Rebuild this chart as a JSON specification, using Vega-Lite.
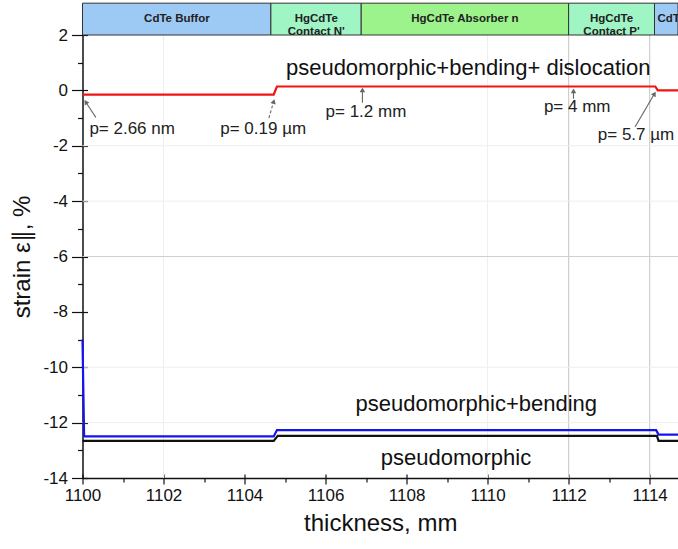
{
  "$schema": "https://vega.github.io/schema/vega-lite/v6.json",
  "width": 595.5,
  "height": 443,
  "autosize": {"type": "none"},
  "padding": {"left": 82.5, "top": 35, "right": 0, "bottom": 71},
  "config": {
    "view": {"stroke": null},
    "font": "Liberation Sans",
    "axis": {
      "labelFont": "Liberation Sans",
      "titleFont": "Liberation Sans",
      "labelColor": "#111111",
      "titleColor": "#111111",
      "tickColor": "#111111",
      "domainColor": "#111111",
      "grid": false,
      "labelFlush": false,
      "labelOverlap": false,
      "titleFontWeight": "normal"
    }
  },
  "datasets": {
    "bands": [
      {"label": "CdTe Buffor", "x0": 1100, "x1": 1104.65, "xm": 1102.33, "kind": "buffer"},
      {"label": "HgCdTe\nContact N'", "x0": 1104.65, "x1": 1106.88, "xm": 1105.77, "kind": "contact"},
      {"label": "HgCdTe Absorber n", "x0": 1106.88, "x1": 1112.0, "xm": 1109.44, "kind": "absorber"},
      {"label": "HgCdTe\nContact P'", "x0": 1112.0, "x1": 1114.12, "xm": 1113.06, "kind": "contact"},
      {"label": "CdTe Buffor", "x0": 1114.12, "x1": 1114.7, "xm": 1114.41, "kind": "buffer"}
    ],
    "curves": [
      {"series": "pseudomorphic+bending+ dislocation", "x": 1100, "y": -0.15},
      {"series": "pseudomorphic+bending+ dislocation", "x": 1104.72, "y": -0.15},
      {"series": "pseudomorphic+bending+ dislocation", "x": 1104.8, "y": 0.14},
      {"series": "pseudomorphic+bending+ dislocation", "x": 1114.14, "y": 0.14},
      {"series": "pseudomorphic+bending+ dislocation", "x": 1114.2, "y": 0.0},
      {"series": "pseudomorphic+bending+ dislocation", "x": 1114.7, "y": 0.0},
      {"series": "pseudomorphic+bending", "x": 1100, "y": -9.0},
      {"series": "pseudomorphic+bending", "x": 1100.04, "y": -12.5},
      {"series": "pseudomorphic+bending", "x": 1104.72, "y": -12.5},
      {"series": "pseudomorphic+bending", "x": 1104.8, "y": -12.27},
      {"series": "pseudomorphic+bending", "x": 1114.16, "y": -12.27},
      {"series": "pseudomorphic+bending", "x": 1114.22, "y": -12.43},
      {"series": "pseudomorphic+bending", "x": 1114.7, "y": -12.43},
      {"series": "pseudomorphic", "x": 1100, "y": -12.66},
      {"series": "pseudomorphic", "x": 1104.72, "y": -12.66},
      {"series": "pseudomorphic", "x": 1104.82, "y": -12.48},
      {"series": "pseudomorphic", "x": 1114.18, "y": -12.48},
      {"series": "pseudomorphic", "x": 1114.22, "y": -12.66},
      {"series": "pseudomorphic", "x": 1114.7, "y": -12.66}
    ],
    "arrows": [
      {"id": 1, "xt": 1100.33, "yt": -0.98, "xh": 1100.08, "yh": -0.42, "line": "solid"},
      {"id": 2, "xt": 1104.6, "yt": -1.0, "xh": 1104.72, "yh": -0.4, "line": "dashed"},
      {"id": 3, "xt": 1106.91, "yt": -0.45, "xh": 1106.91, "yh": 0.02, "line": "solid"},
      {"id": 4, "xt": 1112.12, "yt": -0.3, "xh": 1112.12, "yh": -0.02, "line": "solid"},
      {"id": 5, "xt": 1113.64, "yt": -1.32, "xh": 1114.12, "yh": -0.12, "line": "solid"}
    ],
    "curveLabels": [
      {"text": "pseudomorphic+bending+ dislocation", "x": 1109.52, "y": 0.81},
      {"text": "pseudomorphic+bending", "x": 1109.72, "y": -11.32},
      {"text": "pseudomorphic", "x": 1109.22, "y": -13.27}
    ],
    "pLabels": [
      {"text": "p= 2.66 nm", "x": 1100.17, "y": -1.39},
      {"text": "p= 0.19 µm", "x": 1103.4, "y": -1.39},
      {"text": "p= 1.2 mm", "x": 1106.0, "y": -0.78},
      {"text": "p= 4 mm", "x": 1111.39, "y": -0.6},
      {"text": "p= 5.7 µm", "x": 1112.72, "y": -1.62}
    ]
  },
  "layer": [
    {
      "layer": [
        {
          "data": {"values": [{"gx": 1102}, {"gx": 1110}]},
          "mark": {"type": "rule", "color": "#eeeeee", "strokeWidth": 1},
          "encoding": {
            "x": {"field": "gx", "type": "quantitative", "scale": {"domain": [1100, 1114.7], "nice": false, "zero": false},
              "axis": {"values": [1100, 1102, 1104, 1106, 1108, 1110, 1112, 1114], "labelExpr": "'' + datum.value", "labelFontSize": 17, "tickSize": 6, "tickWidth": 1.2, "labelPadding": 3, "domainWidth": 1.5, "title": "thickness, mm", "titleFontSize": 24, "titlePadding": 8}}
          }
        },
        {
          "data": {"values": [{"gx": 1112}, {"gx": 1114}]},
          "mark": {"type": "rule", "color": "#cfcfcf", "strokeWidth": 1.2},
          "encoding": {
            "x": {"field": "gx", "type": "quantitative", "scale": {"domain": [1100, 1114.7], "nice": false, "zero": false}}
          }
        },
        {
          "data": {"values": [{"gy": -2}, {"gy": -4}, {"gy": -10}, {"gy": -12}]},
          "mark": {"type": "rule", "color": "#eeeeee", "strokeWidth": 1},
          "encoding": {
            "y": {"field": "gy", "type": "quantitative", "scale": {"domain": [-14, 2], "nice": false, "zero": false},
              "axis": {"values": [-14, -12, -10, -8, -6, -4, -2, 0, 2], "labelExpr": "'' + datum.value", "labelFontSize": 17, "tickSize": 11, "tickWidth": 1.2, "labelPadding": 4, "domainWidth": 1.5, "title": "strain ε∥, %", "titleFontSize": 24, "titlePadding": 8}}
          }
        },
        {
          "data": {"values": [{"gy": -6}]},
          "mark": {"type": "rule", "color": "#cfcfcf", "strokeWidth": 1.2},
          "encoding": {
            "y": {"field": "gy", "type": "quantitative", "scale": {"domain": [-14, 2], "nice": false, "zero": false}}
          }
        },
        {
          "data": {"name": "bands"},
          "mark": {"type": "rect", "stroke": "#333333", "strokeWidth": 1},
          "encoding": {
            "x": {"field": "x0", "type": "quantitative", "scale": {"domain": [1100, 1114.7], "nice": false, "zero": false}},
            "x2": {"field": "x1"},
            "y": {"datum": 2, "type": "quantitative", "scale": {"domain": [-14, 2], "nice": false, "zero": false}},
            "y2": {"datum": 3.15},
            "fill": {"field": "kind", "type": "nominal", "legend": null,
              "scale": {"domain": ["buffer", "contact", "absorber"], "range": ["#9dc9f5", "#9ff5c4", "#9cf38c"]}}
          }
        },
        {
          "data": {"name": "bands"},
          "transform": [{"filter": "datum.x1 < 1114.5"}],
          "mark": {"type": "text", "fontWeight": "bold", "fontSize": 11.5, "lineBreak": "\n", "lineHeight": 13, "color": "#222222", "align": "center", "baseline": "middle"},
          "encoding": {
            "x": {"field": "xm", "type": "quantitative", "scale": {"domain": [1100, 1114.7], "nice": false, "zero": false}},
            "y": {"datum": 2.58, "type": "quantitative", "scale": {"domain": [-14, 2], "nice": false, "zero": false}},
            "text": {"field": "label"}
          }
        },
        {
          "data": {"name": "bands"},
          "transform": [{"filter": "datum.x1 >= 1114.5"}],
          "mark": {"type": "text", "fontWeight": "bold", "fontSize": 11.5, "color": "#222222", "align": "left", "baseline": "middle", "dx": 3},
          "encoding": {
            "x": {"field": "x0", "type": "quantitative", "scale": {"domain": [1100, 1114.7], "nice": false, "zero": false}},
            "y": {"datum": 2.58, "type": "quantitative", "scale": {"domain": [-14, 2], "nice": false, "zero": false}},
            "text": {"field": "label"}
          }
        },
        {
          "data": {"name": "curves"},
          "mark": {"type": "line", "strokeWidth": 2.2, "interpolate": "linear"},
          "encoding": {
            "x": {"field": "x", "type": "quantitative", "scale": {"domain": [1100, 1114.7], "nice": false, "zero": false}},
            "y": {"field": "y", "type": "quantitative", "scale": {"domain": [-14, 2], "nice": false, "zero": false}},
            "color": {"field": "series", "type": "nominal", "legend": null,
              "scale": {"domain": ["pseudomorphic+bending+ dislocation", "pseudomorphic+bending", "pseudomorphic"], "range": ["#f01414", "#1414f0", "#111111"]}}
          }
        },
        {
          "data": {"name": "arrows"},
          "mark": {"type": "rule", "color": "#666666", "strokeWidth": 1.1},
          "encoding": {
            "x": {"field": "xt", "type": "quantitative", "scale": {"domain": [1100, 1114.7], "nice": false, "zero": false}},
            "y": {"field": "yt", "type": "quantitative", "scale": {"domain": [-14, 2], "nice": false, "zero": false}},
            "x2": {"field": "xh"},
            "y2": {"field": "yh"},
            "strokeDash": {"field": "line", "type": "nominal", "legend": null,
              "scale": {"domain": ["solid", "dashed"], "range": [[1, 0], [3, 2]]}}
          }
        },
        {
          "data": {"name": "arrows"},
          "transform": [{"calculate": "atan2((datum.xh - datum.xt) * 40.5, (datum.yh - datum.yt) * 27.7) * 180 / PI", "as": "ang"}],
          "mark": {"type": "point", "shape": "triangle-up", "filled": true, "color": "#666666", "size": 30, "opacity": 1},
          "encoding": {
            "x": {"field": "xh", "type": "quantitative", "scale": {"domain": [1100, 1114.7], "nice": false, "zero": false}},
            "y": {"field": "yh", "type": "quantitative", "scale": {"domain": [-14, 2], "nice": false, "zero": false}},
            "angle": {"field": "ang", "type": "quantitative", "scale": null}
          }
        },
        {
          "data": {"name": "curveLabels"},
          "mark": {"type": "text", "fontSize": 22, "color": "#111111", "align": "center", "baseline": "middle"},
          "encoding": {
            "x": {"field": "x", "type": "quantitative", "scale": {"domain": [1100, 1114.7], "nice": false, "zero": false}},
            "y": {"field": "y", "type": "quantitative", "scale": {"domain": [-14, 2], "nice": false, "zero": false}},
            "text": {"field": "text"}
          }
        },
        {
          "data": {"name": "pLabels"},
          "mark": {"type": "text", "fontSize": 17, "color": "#222222", "align": "left", "baseline": "middle"},
          "encoding": {
            "x": {"field": "x", "type": "quantitative", "scale": {"domain": [1100, 1114.7], "nice": false, "zero": false}},
            "y": {"field": "y", "type": "quantitative", "scale": {"domain": [-14, 2], "nice": false, "zero": false}},
            "text": {"field": "text"}
          }
        }
      ]
    },
    {
      "data": {"values": [{"a": 1100, "b": -14}]},
      "mark": {"type": "point", "opacity": 0},
      "encoding": {
        "x": {"field": "a", "type": "quantitative", "scale": {"domain": [1100, 1114.7], "nice": false, "zero": false},
          "axis": {"orient": "bottom", "values": [1101, 1103, 1105, 1107, 1109, 1111, 1113], "labels": false, "domain": false, "grid": false, "tickSize": 4, "tickWidth": 1.2, "title": null}},
        "y": {"field": "b", "type": "quantitative", "scale": {"domain": [-14, 2], "nice": false, "zero": false},
          "axis": {"orient": "left", "values": [-13, -11, -9, -7, -5, -3, -1, 1], "labels": false, "domain": false, "grid": false, "tickSize": 5, "tickWidth": 1.2, "title": null}}
      }
    },
    {
      "data": {"values": [{"a": 1100, "b": -14}]},
      "mark": {"type": "point", "opacity": 0},
      "encoding": {
        "x": {"field": "a", "type": "quantitative", "scale": {"domain": [1100, 1114.7], "nice": false, "zero": false},
          "axis": {"orient": "bottom", "offset": -4, "values": [1100, 1102, 1104, 1106, 1108, 1110, 1112, 1114], "labels": false, "domain": false, "grid": false, "tickSize": 4, "tickWidth": 1.2, "title": null}},
        "y": {"field": "b", "type": "quantitative", "scale": {"domain": [-14, 2], "nice": false, "zero": false},
          "axis": {"orient": "left", "offset": -5, "values": [-14, -12, -10, -8, -6, -4, -2, 0, 2], "labels": false, "domain": false, "grid": false, "tickSize": 5, "tickWidth": 1.2, "title": null}}
      }
    }
  ],
  "resolve": {"scale": {"x": "independent", "y": "independent"}}
}
